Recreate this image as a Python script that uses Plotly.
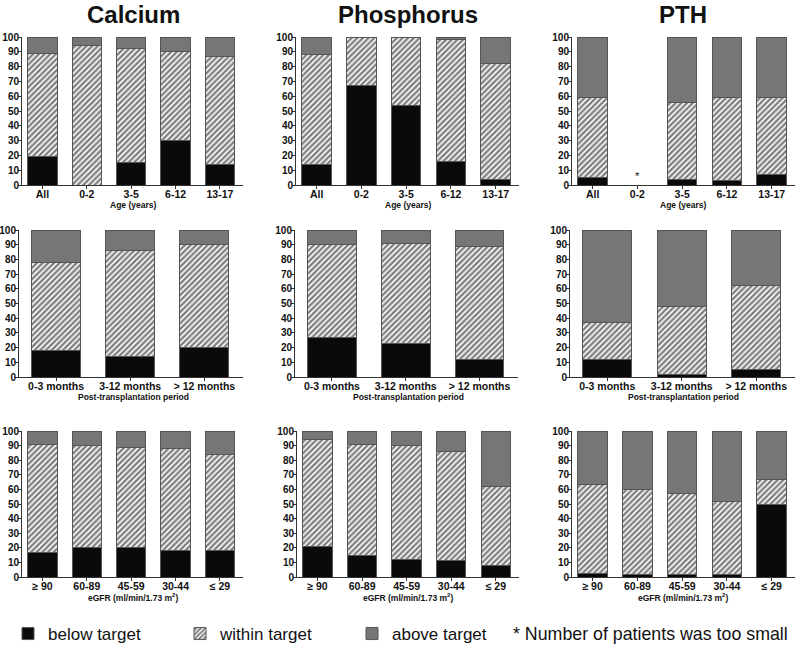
import plotly.graph_objects as go

W, H = 797, 658

age_cats = ["All", "0-2", "3-5", "6-12", "13-17"]
period_cats = ["0-3 months", "3-12 months", "> 12 months"]
egfr_cats = ["\u2265 90", "60-89", "45-59", "30-44", "\u2264 29"]

# Calcium
ca_age_below = [19, 0, 15, 30, 14]
ca_age_within = [70, 94, 77, 60, 73]
ca_age_above = [11, 6, 8, 10, 13]
ca_per_below = [18, 14, 20]
ca_per_within = [60, 72, 70]
ca_per_above = [22, 14, 10]
ca_egfr_below = [17, 20, 20, 18, 18]
ca_egfr_within = [74, 70, 69, 70, 66]
ca_egfr_above = [9, 10, 11, 12, 16]

# Phosphorus
ph_age_below = [14, 67, 54, 16, 4]
ph_age_within = [74, 33, 46, 82, 78]
ph_age_above = [12, 0, 0, 2, 18]
ph_per_below = [27, 23, 12]
ph_per_within = [63, 68, 77]
ph_per_above = [10, 9, 11]
ph_egfr_below = [21, 15, 12, 11, 8]
ph_egfr_within = [73, 76, 78, 75, 54]
ph_egfr_above = [6, 9, 10, 14, 38]

# PTH (0-2 group: number of patients too small)
pth_age_below = [5, None, 4, 3, 7]
pth_age_within = [54, None, 52, 56, 52]
pth_age_above = [41, None, 44, 41, 41]
pth_per_below = [12, 1.5, 5]
pth_per_within = [25, 46.5, 57]
pth_per_above = [63, 52, 38]
pth_egfr_below = [2.5, 2, 2, 1.5, 50]
pth_egfr_within = [61, 58, 55, 50.5, 17]
pth_egfr_above = [36.5, 40, 43, 48, 33]

titles = ["Calcium", "Phosphorus", "PTH"]
row_titles = ["Age (years)", "Post-transplantation period",
              "eGFR (ml/min/1.73 m<sup>2</sup>)"]

panels = [
    [(age_cats, ca_age_below, ca_age_within, ca_age_above),
     (age_cats, ph_age_below, ph_age_within, ph_age_above),
     (age_cats, pth_age_below, pth_age_within, pth_age_above)],
    [(period_cats, ca_per_below, ca_per_within, ca_per_above),
     (period_cats, ph_per_below, ph_per_within, ph_per_above),
     (period_cats, pth_per_below, pth_per_within, pth_per_above)],
    [(egfr_cats, ca_egfr_below, ca_egfr_within, ca_egfr_above),
     (egfr_cats, ph_egfr_below, ph_egfr_within, ph_egfr_above),
     (egfr_cats, pth_egfr_below, pth_egfr_within, pth_egfr_above)],
]

# pixel geometry of panels
row_px = [(37, 185), (230, 377), (431, 577)]
col_px = [[(22, 243), (296, 519), (572, 795)],
          [(19, 243), (295, 518), (570, 795)],
          [(22, 243), (297, 519), (572, 795)]]

FONT = "Liberation Sans, Arial, sans-serif"
BLACK = "#0a0a0a"
GRAY = "#767676"
EDGE = "#555555"

fig = go.Figure()
layout = {}
k = 0
for r in range(3):
    for c in range(3):
        k += 1
        cats, below, within, above = panels[r][c]
        xa = "x" if k == 1 else f"x{k}"
        ya = "y" if k == 1 else f"y{k}"
        show = (k == 1)
        fig.add_trace(go.Bar(x=cats, y=below, xaxis=xa, yaxis=ya, name="below target",
                             legendgroup="b", showlegend=show,
                             marker=dict(color=BLACK, line=dict(color=EDGE, width=1))))
        fig.add_trace(go.Bar(x=cats, y=within, xaxis=xa, yaxis=ya, name="within target",
                             legendgroup="w", showlegend=show,
                             marker=dict(color="white", line=dict(color=EDGE, width=1),
                                         pattern=dict(shape="/", fgcolor="black",
                                                      bgcolor="white", size=4, solidity=0.6))))
        fig.add_trace(go.Bar(x=cats, y=above, xaxis=xa, yaxis=ya, name="above target",
                             legendgroup="a", showlegend=show,
                             marker=dict(color=GRAY, line=dict(color=EDGE, width=1))))
        x0, x1 = col_px[r][c]
        y0, y1 = row_px[r]
        n = len(cats)
        rng = [-0.46, 4.52] if n == 5 else [-0.5, 2.52]
        suffix = "" if k == 1 else str(k)
        layout["xaxis" + suffix] = dict(
            domain=[x0 / W, x1 / W], anchor=ya, range=rng, type="category",
            showline=True, linecolor="#333", linewidth=1, ticks="outside",
            ticklen=3, tickcolor="#333", showgrid=False, zeroline=False,
            automargin=False, ticklabelstandoff=-4,
            tickfont=dict(family=FONT, size=10.5, color="#111", weight="bold"),
            fixedrange=True)
        layout["yaxis" + suffix] = dict(
            domain=[1 - y1 / H, 1 - y0 / H], anchor=xa, range=[0, 100],
            tickvals=list(range(0, 101, 10)), showline=True, linecolor="#333",
            linewidth=1, ticks="outside", ticklen=3, tickcolor="#333",
            showgrid=False, zeroline=False, automargin=False, ticklabelstandoff=-3,
            tickfont=dict(family=FONT, size=10, color="#111", weight="bold"),
            fixedrange=True)

annotations = []
title_x = [133, 408, 683]
for c in range(3):
    annotations.append(dict(text=titles[c], x=title_x[c] / W, y=1 - 15 / H,
                            xref="paper", yref="paper", showarrow=False,
                            xanchor="center", yanchor="middle",
                            font=dict(family=FONT, size=24, color="#111", weight="bold")))
xt_y = [205, 397, 597]
for r in range(3):
    for c in range(3):
        annotations.append(dict(text=row_titles[r], x=title_x[c] / W, y=1 - xt_y[r] / H,
                                xref="paper", yref="paper", showarrow=False,
                                xanchor="center", yanchor="middle",
                                font=dict(family=FONT, size=8.5, color="#111", weight="bold")))
# asterisk for PTH 0-2
annotations.append(dict(text="*", x="0-2", y=6, xref="x3", yref="y3", showarrow=False,
                        font=dict(family=FONT, size=11, color="#111")))
annotations.append(dict(text="* Number of patients was too small", x=511 / W, y=1 - 634 / H,
                        xref="paper", yref="paper", showarrow=False, xanchor="left",
                        yanchor="middle",
                        font=dict(family=FONT, size=17.8, color="#111")))

fig.update_layout(
    width=W, height=H, margin=dict(l=0, r=0, t=0, b=0, autoexpand=False),
    paper_bgcolor="white", plot_bgcolor="white",
    barmode="stack", bargap=0.34,
    showlegend=True,
    legend=dict(orientation="h", x=8 / W, y=1 - 634 / H, xanchor="left", yanchor="middle",
                entrywidth=127, entrywidthmode="pixels", traceorder="normal",
                font=dict(family=FONT, size=17, color="#111"),
                bgcolor="rgba(0,0,0,0)"),
    annotations=annotations,
    **layout,
)

fig.write_html("out.html", post_script="document.body.style.margin='0';",
               config={"displayModeBar": False})
